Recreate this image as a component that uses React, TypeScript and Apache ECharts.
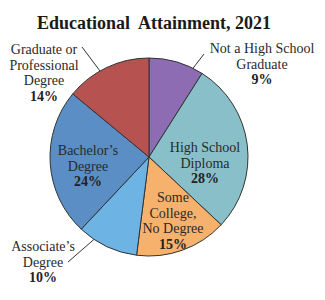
import React, { useEffect, useRef } from "react";
import * as echarts from "echarts";

const TITLE = "Educational  Attainment, 2021";
const categories = [
  "Not a High School Graduate",
  "High School Diploma",
  "Some College, No Degree",
  "Associate's Degree",
  "Bachelor's Degree",
  "Graduate or Professional Degree",
];
const values = [9, 28, 15, 10, 24, 14];
const labelText = [
  ["Not a High School", "Graduate"],
  ["High School", "Diploma"],
  ["Some", "College,", "No Degree"],
  ["Associate\u2019s", "Degree"],
  ["Bachelor\u2019s", "Degree"],
  ["Graduate or", "Professional", "Degree"],
];
const colors = ["#8e6cb4", "#88bfc8", "#f6b26c", "#6db4e4", "#5b8ec4", "#b65350"];

// layout (label block centres and leader lines), in pixels
const labelPos = [
  [262, 64],
  [205, 163],
  [173, 221],
  [43, 262],
  [88, 166],
  [44, 73],
];
const leaderLines: (number[][] | null)[] = [
  [[187, 76], [204, 54]],
  null,
  null,
  [[99, 235], [68, 262]],
  null,
  [[106, 79], [82, 47]],
];

export default function App() {
  const ref = useRef<HTMLDivElement>(null);
  useEffect(() => {
    document.body.style.margin = "0";
    const chart = echarts.init(ref.current!, null, { renderer: "svg" });
    const font = "'Liberation Serif', 'Times New Roman', serif";
    chart.setOption({
      animation: false,
      backgroundColor: "#ffffff",
      title: {
        text: TITLE,
        left: 149,
        textAlign: "center",
        top: 9,
        textStyle: { fontFamily: font, fontSize: 18, fontWeight: "bold", color: "#1a1a1a" },
      },
      series: [
        {
          type: "pie",
          center: [149, 157],
          radius: 99,
          startAngle: 90,
          clockwise: true,
          itemStyle: { borderColor: "#333333", borderWidth: 1 },
          labelLine: { show: true, lineStyle: { color: "#333333", width: 1 } },
          label: {
            show: true,
            position: "outside",
            overflow: "none",
            edgeDistance: 0,
            bleedMargin: 0,
            fontFamily: font,
            color: "#2a2a2a",
            formatter: (p: any) => {
              const lines = labelText[p.dataIndex].map((t) => `{n|${t}}`);
              lines.push(`{p|${values[p.dataIndex]}%}`);
              return lines.join("\n");
            },
            rich: {
              n: { fontFamily: font, fontSize: 14, lineHeight: 15.5, color: "#2a2a2a", align: "center" },
              p: { fontFamily: font, fontSize: 14, fontWeight: "bold", lineHeight: 15.5, color: "#222222", align: "center" },
            },
          },
          labelLayout: (params: any) => {
            const i = params.dataIndex;
            const res: any = {
              x: labelPos[i][0],
              y: labelPos[i][1],
              align: "center",
              verticalAlign: "middle",
            };
            if (leaderLines[i]) res.labelLinePoints = [leaderLines[i]![0], leaderLines[i]![0], leaderLines[i]![1]];
            return res;
          },
          data: categories.map((c, i) => ({
            name: c,
            value: values[i],
            itemStyle: { color: colors[i] },
            labelLine: { show: !!leaderLines[i] },
          })),
        },
      ],
    });
    return () => chart.dispose();
  }, []);
  return <div ref={ref} style={{ width: 325, height: 300 }} />;
}
